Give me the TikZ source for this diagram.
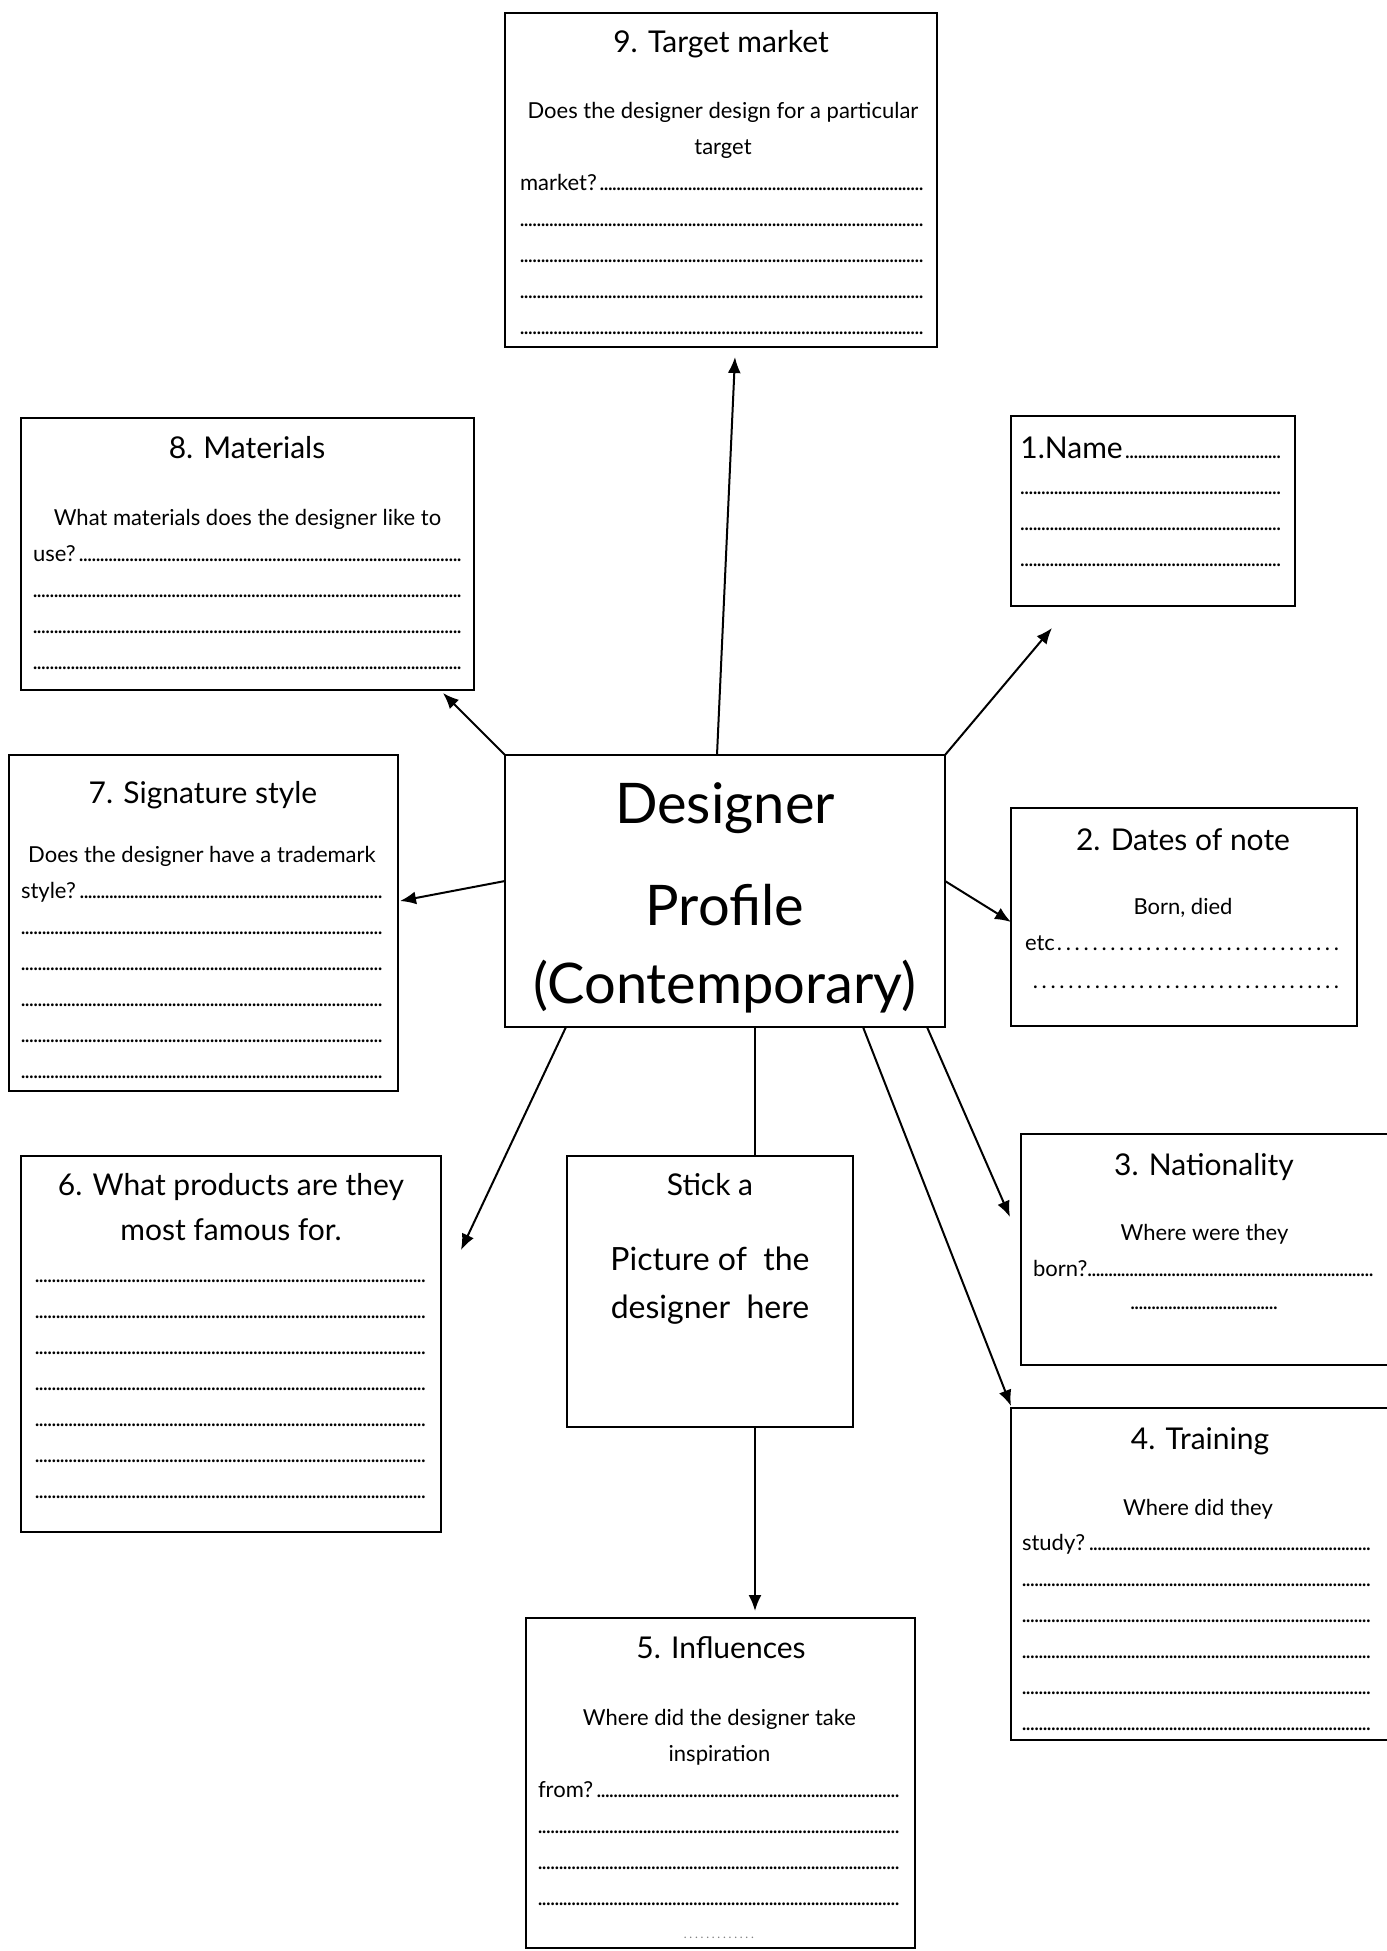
\documentclass[tikz,border=0pt]{standalone}
\usepackage{fontspec}
\setmainfont{Lato}
\usepackage{tikz}
\usetikzlibrary{arrows.meta,calc}

\newcommand{\dotrow}{\leavevmode\null\leaders\hbox to 2.1pt{\hss.\hss}\hskip 0pt plus 1fill\null}
\newcommand{\wdotrow}{\leavevmode\null\xleaders\hbox to 4.4pt{\hss.\hss}\hskip 0pt plus 1fill\null}
\newcommand{\headfont}{\fontsize{15}{22.5}\selectfont}
\newcommand{\bodyfont}{\fontsize{11}{18}\selectfont}

\tikzset{
  card/.style={draw, line width=1.3pt, anchor=north west, inner sep=0pt, outer sep=0pt, fill=white},
  head/.style={anchor=base, inner sep=0pt, font=\headfont},
  body/.style={anchor=base, inner sep=0pt, font=\bodyfont},
  link/.style={line width=1pt, -{Latex[length=8pt,width=6.5pt]}},
}

\begin{document}
\begin{tikzpicture}[x=0.5pt,y=-0.5pt]
\useasboundingbox (0,0) rectangle (1387,1951);

\node[card, minimum width=216pt, minimum height=167pt] (market) at (505,13) {};
\node[head] (market-h) at (721,52) {9. Target market};
\node[body] (market-b) at (723,118) {\parbox[t]{203pt}{\centering
Does the designer design for a particular\\ target\\ market?\dotrow\\ \dotrow\\ \dotrow\\ \dotrow\\ \dotrow}};

\node[card, minimum width=226.5pt, minimum height=136pt] (materials) at (21,418) {};
\node[head] (materials-h) at (247,458) {8. Materials};
\node[body] (materials-b) at (247.5,525) {\parbox[t]{214.5pt}{\centering
What materials does the designer like to\\ use?\dotrow\\ \dotrow\\ \dotrow\\ \dotrow}};

\node[card, minimum width=142pt, minimum height=95pt] (name) at (1011,416) {};
\node[body, anchor=base west] (name-b) at (1020,458) {\parbox[t]{132pt}{\raggedright
{\headfont 1.Name}\dotrow\\ \dotrow\\ \dotrow\\ \dotrow}};

\node[card, minimum width=173pt, minimum height=109pt] (dates) at (1011,808) {};
\node[head] (dates-h) at (1183,850) {2. Dates of note};
\node[body] (dates-b) at (1183,914) {\parbox[t]{158pt}{\centering
Born, died\\ etc\wdotrow\\[1pt] \hspace*{3pt}\wdotrow}};

\node[card, minimum width=194.5pt, minimum height=168pt] (signature) at (9,755) {};
\node[head] (signature-h) at (203,803) {7. Signature style};
\node[body] (signature-b) at (202,862) {\parbox[t]{181pt}{\centering
Does the designer have a trademark\\ style?\dotrow\\ \dotrow\\ \dotrow\\ \dotrow\\ \dotrow\\ \dotrow}};

\node[card, minimum width=220pt, minimum height=136pt] (hub) at (505,755) {};
\node[anchor=base, inner sep=0pt, font=\fontsize{28}{39}\selectfont] (hub-t) at (725,823) {\parbox[t]{220pt}{\centering
Designer\\[12pt] Profile\\ (Contemporary)}};

\node[card, minimum width=210pt, minimum height=188pt] (products) at (21,1156) {};
\node[head] (products-h) at (231,1195) {\parbox[t]{210pt}{\centering
6. What products are they\\ most famous for.}};
\node[body] (products-b) at (230.5,1282) {\parbox[t]{195.5pt}{\centering
\dotrow\\ \dotrow\\ \dotrow\\ \dotrow\\ \dotrow\\ \dotrow\\ \dotrow}};

\node[card, minimum width=143pt, minimum height=135.5pt] (photo) at (567,1156) {};
\node[anchor=base, inner sep=0pt, font=\fontsize{16}{24}\selectfont] (photo-t) at (710,1195) {\parbox[t]{143pt}{\centering
{\fontsize{15}{24}\selectfont Stick a}\\[13.5pt] Picture of\ \ the\\ designer\ \ here}};

\node[card, minimum width=189.5pt, minimum height=115.5pt] (nation) at (1021,1134) {};
\node[head] (nation-h) at (1204,1175) {3. Nationality};
\node[body] (nation-b) at (1204.5,1240) {\parbox[t]{171.5pt}{\centering
Where were they\\ born?\dotrow\\[-1.5pt] \makebox[74pt]{\dotrow}}};

\node[card, minimum width=194.5pt, minimum height=166pt] (training) at (1011,1408) {};
\node[head] (training-h) at (1200,1449) {4. Training};
\node[body] (training-b) at (1198,1515) {\parbox[t]{176pt}{\centering
Where did they\\[-0.5pt] study?\dotrow\\ \dotrow\\ \dotrow\\ \dotrow\\ \dotrow\\ \dotrow}};

\node[card, minimum width=194.5pt, minimum height=165pt] (influences) at (526,1618) {};
\node[head] (influences-h) at (721,1658) {5. Influences};
\node[body] (influences-b) at (719.5,1725) {\parbox[t]{181.5pt}{\centering
Where did the designer take\\ inspiration\\ from?\dotrow\\ \dotrow\\ \dotrow\\ \dotrow\\[-1.5pt]
{\color{gray}\fontsize{6}{8}\selectfont\makebox[37pt]{\leavevmode\null\leaders\hbox to 2.8pt{\hss.\hss}\hskip 0pt plus 1fill\null}}}};

\coordinate (to-market) at (735,357);
\coordinate (to-name) at (1052,628);
\coordinate (to-materials) at (443,693);
\coordinate (to-signature) at (400,901);
\coordinate (to-dates) at (1011,922);
\coordinate (to-products) at (461,1250);
\coordinate (to-nation) at (1010,1217);
\coordinate (to-training) at (1011,1406);
\coordinate (to-influences) at (755,1611);

\draw[link] ($(hub.north)+(-8,0)$) -- (to-market);
\draw[link] (hub.north east) -- (to-name);
\draw[link] (hub.north west) -- (to-materials);
\draw[link] ($(hub.west)+(0,-10)$) -- (to-signature);
\draw[link] ($(hub.east)+(0,-10)$) -- (to-dates);
\draw[link] ($(hub.south west)+(61,0)$) -- (to-products);
\draw[link] ($(hub.south)+(202,0)$) -- (to-nation);
\draw[link] ($(hub.south)+(138,0)$) -- (to-training);
\draw[line width=1pt] ($(hub.south)+(30,0)$) coordinate (drop) -- (drop |- photo.north);
\draw[link] (drop |- photo.south) -- (to-influences);
\end{tikzpicture}
\end{document}
